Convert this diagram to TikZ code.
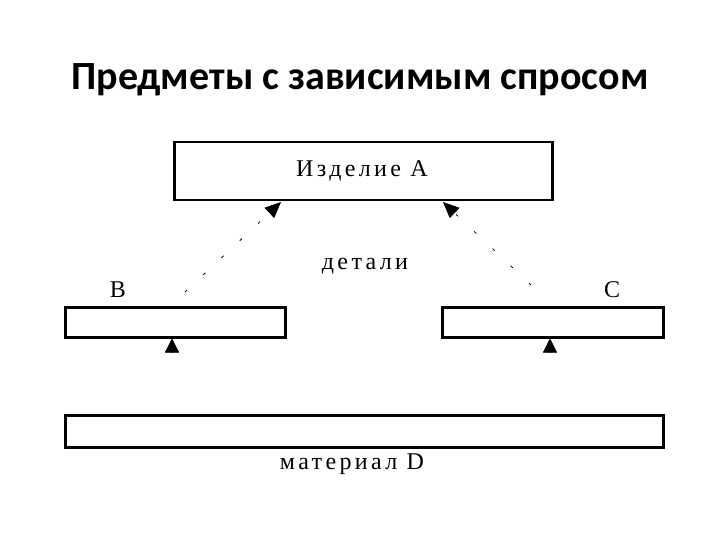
\documentclass[tikz,border=0pt]{standalone}
\usepackage{fontspec}
\setmainfont{Liberation Serif}
\newfontfamily\titlefont{Carlito}
\usetikzlibrary{arrows.meta}
\begin{document}
\begin{tikzpicture}[x=1pt,y=-1pt,
  box/.style={draw,line width=2.5pt,inner sep=0pt,anchor=north west},
  lbl/.style={font=\fontsize{24}{27}\selectfont\addfontfeature{LetterSpace=14}},
  dep/.style={line width=0.8pt,dash pattern=on 3pt off 22pt,-{Triangle[length=16pt,width=14pt]},black},
  up/.style={-{Triangle[length=14pt,width=14pt]}}]
\useasboundingbox (0,0) rectangle (720,540);
\node[font=\titlefont\bfseries\fontsize{40}{44}\selectfont] (t) at (360,80) {Предметы с зависимым спросом};
\node[box,minimum width=378pt,minimum height=58pt] (A) at (173,141) {};
\node[lbl] (at) at (362,171) {Изделие А};
\node[box,minimum width=220pt,minimum height=30pt] (B) at (64,306) {};
\node[box,minimum width=221pt,minimum height=30pt] (C) at (441,306) {};
\node[box,minimum width=598pt,minimum height=32pt] (D) at (64,414) {};
\node[lbl] (bl) at (118,290) {В};
\node[lbl] (cl) at (612,290) {С};
\node[lbl] (det) at (365,266) {детали};
\node[lbl] (mat) at (352,464) {материал D};
\coordinate (b1) at (185,292); \coordinate (a1) at (281,202);
\coordinate (c1) at (531,285); \coordinate (a2) at (443,202);
\draw[dep] (b1) -- (a1);
\draw[dep] (c1) -- (a2);
\coordinate (d1) at (172,353); \coordinate (d2) at (550,353);
\draw[up] (d1) -- (d1 |- B.south);
\draw[up] (d2) -- (d2 |- C.south);
\end{tikzpicture}
\end{document}
